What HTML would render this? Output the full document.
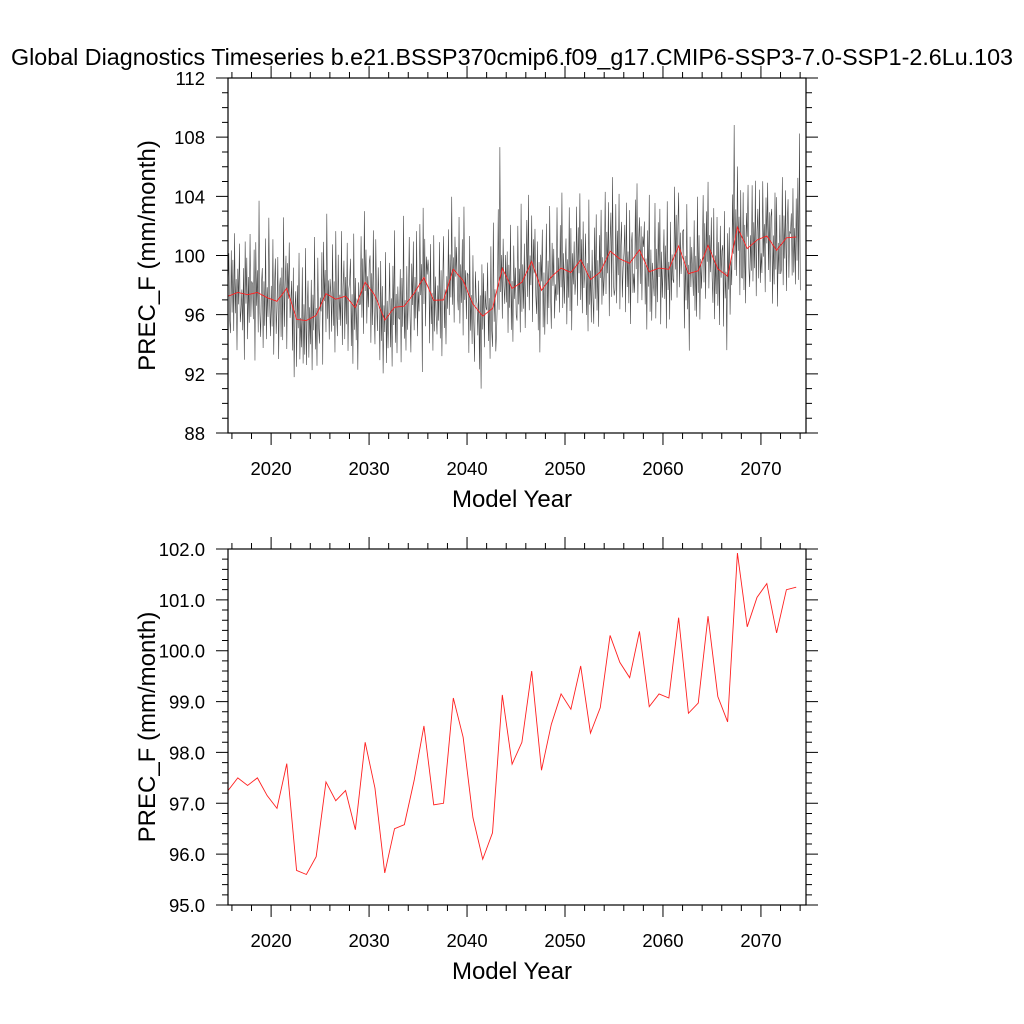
<!DOCTYPE html>
<html><head><meta charset="utf-8">
<style>
html,body{margin:0;padding:0;background:#fff;}
svg{display:block;font-family:"Liberation Sans",Arial,sans-serif;}
</style></head>
<body>
<svg id="chart" width="1024" height="1024" viewBox="0 0 1024 1024" xmlns="http://www.w3.org/2000/svg">
<text x="512" y="65" font-size="23" text-anchor="middle" textLength="1002" lengthAdjust="spacingAndGlyphs">Global Diagnostics Timeseries b.e21.BSSP370cmip6.f09_g17.CMIP6-SSP3-7.0-SSP1-2.6Lu.103</text>
<g id="top"></g>
<g id="bot"></g>
</svg>
<script>
const years = [];
for (let i = 0; i < 59; i++) years.push(2015.6 + i);
const annualMean = [97.25,97.5,97.35,97.5,97.15,96.9,97.78,95.68,95.6,95.95,97.42,97.05,97.25,96.48,98.2,97.3,95.63,96.5,96.58,97.45,98.52,96.97,97.0,99.07,98.3,96.72,95.9,96.42,99.13,97.77,98.2,99.6,97.65,98.55,99.15,98.85,99.7,98.38,98.88,100.3,99.77,99.47,100.38,98.9,99.15,99.07,100.65,98.77,98.97,100.68,99.1,98.6,101.92,100.47,101.05,101.32,100.35,101.2,101.25];
const monthlyAnom = [
5.8,-4.0,1.5,-2.2,2.4,-3.1,0.8,2.9,-1.6,-2.5,3.1,-1.1,
2.2,-2.6,4.0,-1.4,0.9,-3.9,1.6,-0.8,3.3,-2.0,-1.2,0.2,
-2.4,1.8,-4.4,3.6,-0.6,2.5,-3.0,1.2,-1.9,4.1,-1.5,0.9,
0.6,-1.8,2.9,-4.6,3.4,-0.9,1.5,-2.7,6.2,-1.4,-3.0,0.6,
2.0,-3.4,1.1,-1.9,4.0,-2.8,0.7,-1.3,5.4,-0.4,-2.6,0.8,
-1.7,4.2,-3.6,1.0,2.9,-2.2,-0.5,3.0,-3.9,0.8,1.6,-2.4,
1.4,-3.5,4.8,-2.6,0.3,2.2,-4.1,1.7,-0.7,3.1,-2.0,-0.9,
2.6,-2.1,3.5,-3.9,0.8,1.9,-3.2,2.3,-0.6,4.5,-2.7,0.1,
-1.8,3.6,-2.9,1.1,-2.3,4.9,-3.0,0.6,2.7,-2.5,0.9,-1.6,
2.4,-3.7,1.4,-1.0,5.3,-2.3,0.5,-3.4,3.9,-0.8,-1.9,1.2,
-1.2,2.8,-4.8,3.5,-0.5,1.6,-2.6,5.4,-1.7,0.9,-3.1,1.0,
0.4,-2.2,3.7,-1.8,1.2,-3.6,4.6,-0.9,-2.5,3.0,-1.4,0.3,
-2.0,4.4,-3.3,0.7,2.4,-2.9,1.3,-1.9,3.6,-3.7,0.5,1.0,
3.3,-2.6,0.9,-3.8,5.0,-1.5,2.0,-2.2,0.6,-4.2,1.7,0.2,
-1.5,3.1,-2.4,1.6,-3.5,4.8,-0.6,2.2,-2.8,0.4,-1.7,1.3,
2.7,-3.2,1.5,-2.0,4.4,-1.1,-3.3,3.8,-0.5,-2.4,1.9,-0.6,
-2.7,4.0,-1.4,2.3,-3.6,1.0,-0.8,4.6,-2.9,1.3,-1.9,0.6,
3.0,-2.7,0.6,-4.0,2.8,-1.2,5.2,-2.4,0.9,-3.1,1.4,-0.7,
-0.9,2.5,-3.8,1.9,-1.4,6.1,-2.2,0.4,-3.0,2.7,-1.6,0.5,
3.8,-1.6,-4.0,2.0,-0.8,3.5,-2.5,1.1,-1.7,4.2,-2.9,0.1,
-2.3,3.6,-1.2,0.9,-6.4,4.7,-1.8,2.6,-3.3,1.4,0.2,1.2,
1.9,-2.9,3.8,-1.6,0.5,-3.4,4.4,-2.1,1.6,-1.0,-2.3,1.0,
-1.4,3.9,-2.6,2.0,-3.8,1.2,4.3,-1.9,0.7,-3.0,1.6,-0.6,
2.7,-3.1,1.0,-1.9,4.9,-2.4,0.8,-3.6,2.2,-0.5,1.5,-1.7,
-2.0,4.3,-2.9,1.1,-1.5,2.8,-3.7,5.0,-1.3,0.7,-2.6,0.5,
2.0,-3.3,4.6,-1.8,0.6,-2.7,3.3,-1.2,-3.9,2.2,0.4,0.0,
-1.3,2.4,-3.6,1.4,-4.9,3.5,-0.9,2.9,-2.1,1.7,0.6,0.4,
3.1,-2.2,0.7,-3.4,4.2,-1.5,-2.6,5.8,-0.9,1.3,-2.9,-1.5,
-1.9,4.0,-2.8,8.2,-1.6,0.9,-3.4,2.0,-1.2,-2.4,0.9,-2.3,
2.5,-3.0,1.6,-1.3,4.3,-2.8,0.5,-3.6,2.9,-0.7,1.4,-1.8,
-2.6,3.8,-1.5,0.9,-3.4,5.3,-2.0,1.2,-1.8,2.6,-3.1,0.6,
2.8,-2.4,4.5,-3.3,0.4,-1.6,3.1,-4.1,1.5,-0.8,2.2,-2.3,
-1.6,3.3,-2.7,1.9,-4.2,2.4,0.6,4.1,-2.5,1.2,-3.0,0.5,
3.6,-3.2,1.1,-2.1,4.8,-1.0,-3.5,2.3,-0.6,1.9,-2.8,-0.5,
-2.2,4.1,-1.8,0.7,-3.0,2.9,-1.3,5.1,-2.7,1.0,-2.4,0.2,
2.3,-3.5,0.9,-1.7,4.4,-2.6,3.0,-3.9,1.3,-0.8,2.1,-1.5,
-1.3,3.6,-3.1,2.2,-0.9,4.5,-2.7,1.4,-3.6,2.6,-1.9,-0.8,
3.1,-2.4,1.1,-3.5,5.4,-1.7,0.6,-2.9,2.0,-1.2,-3.0,3.5,
-1.8,3.9,-2.6,0.8,-3.7,2.5,-0.4,4.2,-2.2,1.0,-1.6,-0.1,
4.0,-2.9,1.3,-1.5,3.3,-4.4,0.7,2.6,-3.1,5.0,-2.0,-3.0,
-2.1,3.7,-3.0,1.9,-1.1,4.4,-3.4,0.9,2.5,-2.6,-0.6,0.4,
2.6,-3.3,4.1,-1.6,0.8,-2.7,3.6,-4.1,1.2,2.1,-2.0,-0.7,
-2.9,3.4,-1.3,4.5,-3.6,0.7,2.2,-2.3,1.6,-3.4,0.9,0.2,
3.4,-2.2,0.9,-3.9,2.8,-1.0,5.2,-2.7,1.5,-3.3,0.6,-0.7,
-1.9,4.4,-3.4,1.3,-2.3,3.1,-0.6,4.0,-3.8,1.1,-2.0,0.1,
2.7,-2.0,1.6,-4.0,4.6,-1.4,0.5,-3.4,3.2,-2.1,1.0,-0.7,
-2.5,4.0,-1.6,2.1,-3.5,1.3,3.6,-2.8,0.9,-1.9,-0.6,1.0,
3.0,-3.7,1.2,-1.8,4.7,-2.4,0.6,-5.2,2.5,-0.9,1.8,0.2,
-1.7,3.4,-2.7,1.0,-3.1,5.0,-1.5,2.4,-3.3,0.8,-1.2,0.9,
3.4,-2.5,1.5,-3.6,2.3,-1.1,4.3,-2.9,0.7,-1.8,1.9,-2.2,
-2.3,4.1,-3.4,0.9,-1.7,3.5,-2.5,1.8,-3.8,2.9,-0.6,1.2,
2.1,-3.4,4.4,-1.5,0.3,-5.0,2.9,-0.9,3.3,-2.6,1.0,-0.6,
2.2,-1.8,6.9,-2.9,1.2,-3.3,4.1,-1.6,0.7,-4.6,2.5,-3.4,
-2.0,3.8,-2.8,1.6,-3.7,2.4,0.8,4.3,-1.3,-2.6,0.9,-1.5,
3.7,-2.8,1.2,-1.9,4.0,-3.8,0.6,2.1,-2.6,3.4,-2.9,-0.9,
-2.5,3.7,-1.4,0.8,-3.8,2.6,-0.5,3.6,-2.3,1.6,-3.1,1.3,
2.8,-3.6,1.0,-2.3,3.9,-1.3,3.6,-3.8,0.5,-1.6,2.4,-1.6,
-2.1,4.1,-3.2,1.5,-1.4,3.2,-3.6,0.9,2.6,-2.7,0.4,0.3,
1.6,-2.6,3.3,-2.4,0.6,-3.2,2.6,-1.6,4.0,-2.9,7.0,-3.6
];

const NS = "http://www.w3.org/2000/svg";
function mk(parent, tag, attrs) {
  const e = document.createElementNS(NS, tag);
  for (const k in attrs) e.setAttribute(k, attrs[k]);
  parent.appendChild(e);
  return e;
}

function drawPanel(g, cfg) {
  const L = 228, R = 806, T = cfg.top, B = cfg.bottom;
  const xMin = 2015.6, xMax = 2074.6;
  const xs = v => L + (v - xMin) / (xMax - xMin) * (R - L);
  const ys = v => B - (v - cfg.yMin) / (cfg.yMax - cfg.yMin) * (B - T);
  let d = "";
  for (let yr = 2016; yr <= 2074; yr += 2) {
    const major = yr % 10 === 0;
    const len = major ? 12 : 6;
    const x = xs(yr);
    d += `M${x},${B}v${len}M${x},${T}v${-len}`;
  }
  const nMinor = Math.round((cfg.yMax - cfg.yMin) / cfg.minor);
  for (let i = 0; i <= nMinor; i++) {
    const v = cfg.yMin + i * cfg.minor;
    const major = Math.abs(((v - cfg.yMin) / cfg.major) - Math.round((v - cfg.yMin) / cfg.major)) < 1e-6;
    const len = major ? 12 : 6;
    const y = ys(v);
    d += `M${L},${y}h${-len}M${R},${y}h${len}`;
  }
  const ticks = mk(g, "path", {d: d, stroke: "#000", "stroke-width": 1, fill: "none"});
  
  
  for (let v = cfg.yMin; v <= cfg.yMax + 1e-6; v += cfg.major) {
    const t = mk(g, "text", {x: 205, y: ys(v) + 7, "font-size": 18.5, "text-anchor": "end"});
    t.textContent = v.toFixed(cfg.dec);
    
    
  }
  for (let yr = 2020; yr <= 2070; yr += 10) {
    const t = mk(g, "text", {x: xs(yr), y: B + 42, "font-size": 18.5, "text-anchor": "middle"});
    t.textContent = yr;
    
    
  }
  const xt = mk(g, "text", {x: (L + R) / 2 - 5, y: B + 74, "font-size": 24, "text-anchor": "middle"});
  xt.textContent = "Model Year";
  
  
  const yc = (T + B) / 2;
  const yt = mk(g, "text", {x: 0, y: 0, "font-size": 24, "text-anchor": "middle", transform: `translate(155,${yc}) rotate(-90)`});
  yt.textContent = "PREC_F (mm/month)";
  
  
  const cid = "clip" + T;
  const cp = mk(g, "clipPath", {id: cid});
  mk(cp, "rect", {x: L, y: T, width: R - L, height: B - T});
  const series = mk(g, "g", {"clip-path": `url(#${cid})`});
  
  
  if (cfg.monthly) {
    let pts = [];
    for (let i = 0; i < years.length; i++) {
      for (let m = 0; m < 12; m++) {
        const t = years[i] - 0.5 + (m + 0.5) / 12 - 0.04;
        pts.push(xs(t).toFixed(2) + "," + ys(annualMean[i] + monthlyAnom[i * 12 + m]).toFixed(2));
      }
    }
    const pl = mk(series, "polyline", {points: pts.join(" "), fill: "none", stroke: "#444", "stroke-width": 0.6});
    
    
  }
  const apts = years.map((y, i) => xs(y).toFixed(2) + "," + ys(annualMean[i]).toFixed(2)).join(" ");
  const ap = mk(series, "polyline", {points: apts, fill: "none", stroke: "#ff2020", "stroke-width": 0.9});
  
  
  const frame = mk(g, "rect", {x: L, y: T, width: R - L, height: B - T, fill: "none", stroke: "#000", "stroke-width": 1.2});
  
  
}

drawPanel(document.getElementById("top"), {top: 78, bottom: 433, yMin: 88, yMax: 112, major: 4, minor: 1, dec: 0, monthly: true});
drawPanel(document.getElementById("bot"), {top: 549, bottom: 905, yMin: 95, yMax: 102, major: 1, minor: 0.2, dec: 1, monthly: false});
</script>
</body></html>
